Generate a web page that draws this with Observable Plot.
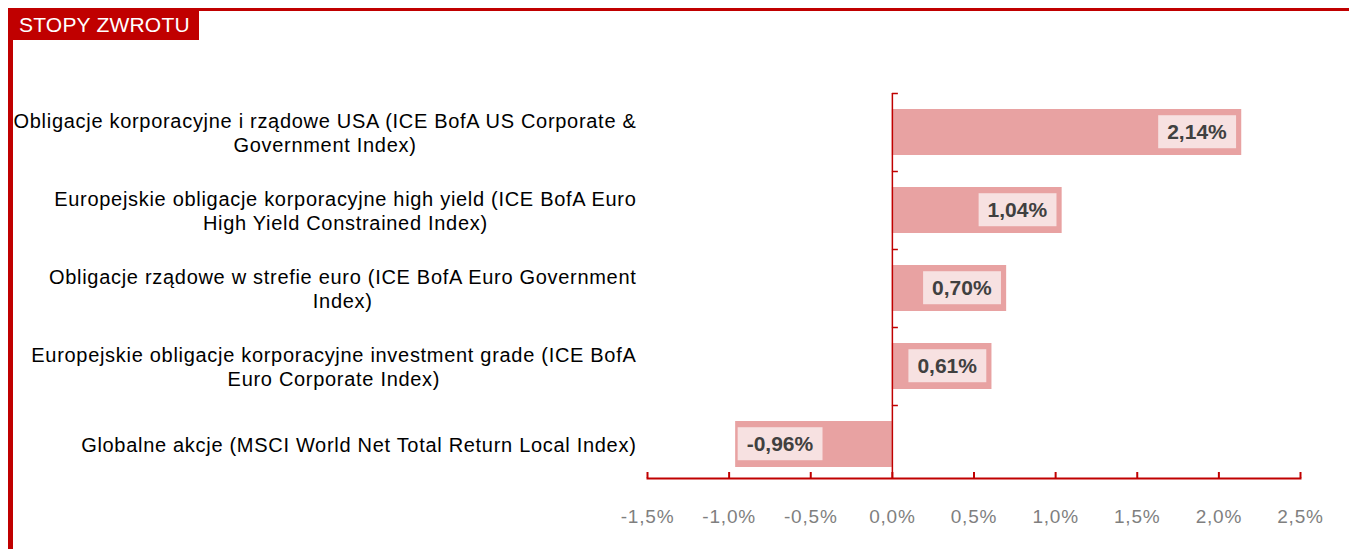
<!DOCTYPE html>
<html>
<head>
<meta charset="utf-8">
<script src="https://cdn.jsdelivr.net/npm/d3@7"></script>
<script src="https://cdn.jsdelivr.net/npm/@observablehq/plot@0.6"></script>
<style>
  body { margin: 0; background: #fff; }
  #wrap { position: relative; width: 1349px; height: 549px; overflow: hidden; font-family: "Liberation Sans", Arial, sans-serif; }
  .topline { position: absolute; left: 8px; top: 8px; width: 1341px; height: 3px; background: #C00000; }
  .leftline { position: absolute; left: 8px; top: 8px; width: 5px; height: 541px; background: #C00000; }
  .header { position: absolute; left: 8px; top: 8px; width: 191px; height: 32px; background: #C00000; color: #fff; font-size: 21px; line-height: 33px; padding-left: 11px; letter-spacing: 0.2px; box-sizing: border-box; white-space: nowrap; }
  #chart { position: absolute; left: 0; top: 0; }
</style>
</head>
<body>
<div id="wrap">
  <div class="topline"></div>
  <div class="leftline"></div>
  <div class="header">STOPY ZWROTU</div>
  <div id="chart"></div>
</div>
<script>
const categories = [
  "Obligacje korporacyjne i rządowe USA (ICE BofA US Corporate &\nGovernment Index)",
  "Europejskie obligacje korporacyjne high yield (ICE BofA Euro\nHigh Yield Constrained Index)",
  "Obligacje rządowe w strefie euro (ICE BofA Euro Government\nIndex)",
  "Europejskie obligacje korporacyjne investment grade (ICE BofA\nEuro Corporate Index)",
  "Globalne akcje (MSCI World Net Total Return Local Index)"
];
const values = [2.14, 1.04, 0.70, 0.61, -0.96];
const xTicks = [-1.5, -1.0, -0.5, 0.0, 0.5, 1.0, 1.5, 2.0, 2.5];

const data = categories.map((name, i) => ({name, value: values[i]}));
const fmtVal = v => v.toFixed(2).replace(".", ",") + "%";
const fmtTick = v => v.toFixed(1).replace(".", ",") + "%";

const RED = "#C00000";
const font = '"Liberation Sans", Arial, sans-serif';

const plot = Plot.plot({
  width: 1349,
  height: 549,
  marginLeft: 647,
  marginRight: 49,
  marginTop: 93,
  marginBottom: 71,
  style: {fontFamily: font, background: "transparent", overflow: "visible"},
  x: {domain: [-1.5, 2.5], label: null, axis: null},
  y: {domain: categories, range: [93, 484], paddingInner: 0.41, paddingOuter: 0.205, axis: null, label: null},
  marks: [
    Plot.barX(data, {x: "value", y: "name", fill: "#E8A2A2"}),
    Plot.frame({anchor: "bottom", stroke: RED, strokeWidth: 2}),
    Plot.ruleX(xTicks, {x: d => d, stroke: RED, strokeWidth: 2, insetTop: 379}),
    Plot.ruleX([0], {stroke: RED, strokeWidth: 1.5}),
    Plot.ruleY(categories, {y: d => d, x1: () => 0, x2: () => 0, insetRight: -6, dy: -39, stroke: RED, strokeWidth: 1.5}),
    Plot.axisX({ticks: xTicks, tickFormat: fmtTick, tickSize: 0, tickPadding: 31, fontSize: 19, fill: "#7F7F7F", anchor: "bottom", label: null}),
    Plot.text(categories, {y: d => d, frameAnchor: "left", textAnchor: "end", dx: -11, fontSize: 20, lineHeight: 1.2, fill: "#000"}),
    Plot.text(data.filter(d => d.value >= 0), {x: "value", y: "name", text: d => fmtVal(d.value), textAnchor: "end", dx: -15, fontSize: 21, fontWeight: "bold", fill: "#404040"}),
    Plot.text(data.filter(d => d.value < 0), {x: "value", y: "name", text: d => fmtVal(d.value), textAnchor: "start", dx: 11, fontSize: 21, fontWeight: "bold", fill: "#404040"})
  ]
});

document.getElementById("chart").appendChild(plot);

const ns = "http://www.w3.org/2000/svg";
const catKeys = new Set(categories.map(c => c.replace(/\n/g, "")));
const allTexts = [...plot.querySelectorAll("text")];

allTexts.forEach(t => {
  const s = t.textContent.trim();
  if (/^-?\d,\d%$/.test(s)) {
    t.setAttribute("letter-spacing", "0.8");
  } else if (/^-?\d,\d\d%$/.test(s)) {
    const b = t.getBBox();
    const cy = b.y + b.height / 2;
    const r = document.createElementNS(ns, "rect");
    r.setAttribute("x", b.x - 9);
    r.setAttribute("width", b.width + 18);
    r.setAttribute("y", cy - 16.5);
    r.setAttribute("height", 33);
    r.setAttribute("fill", "#F7E1E1");
    const tr = t.getAttribute("transform");
    if (tr) r.setAttribute("transform", tr);
    t.parentNode.insertBefore(r, t);
  } else if (catKeys.has(s.replace(/\s*\n\s*/g, ""))) {
    t.setAttribute("letter-spacing", "0.7");
    const w = t.getBBox().width;
    t.setAttribute("text-anchor", "middle");
    const tr = t.getAttribute("transform") || "";
    t.setAttribute("transform", (tr + ` translate(${-w / 2},0)`).trim());
  }
});
</script>
</body>
</html>
